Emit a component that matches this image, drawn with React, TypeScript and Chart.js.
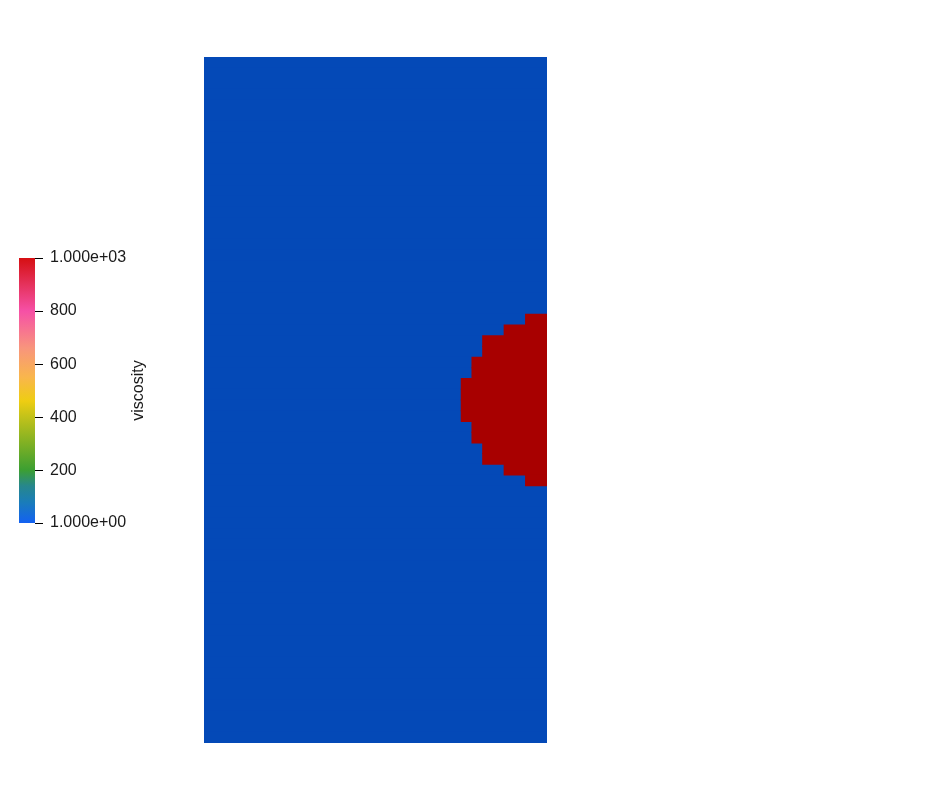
import React, { useEffect, useRef } from "react";
import { Chart, registerables } from "chart.js";

Chart.register(...registerables);

// Mesh: 32 columns x 64 rows of cells (rows counted from the top)
const gridCols = 32;
const gridRows = 64;
const rowLabels: string[] = Array.from({ length: gridRows }, (_, i) => `row ${i}`);

// High-viscosity inclusion: first row (from top) and, for each row, first column that is 1000
const inclusionFirstRow = 24;
const inclusionRowStartCol = [30, 28, 26, 26, 25, 25, 24, 24, 24, 24, 25, 25, 26, 26, 28, 30];

// Viscosity values
const lowViscosity = 1;
const highViscosity = 1000;

// Colour bar
const colorbarTicks = [1, 200, 400, 600, 800, 1000];
const colorbarTickLabels = ["1.000e+00", "200", "400", "600", "800", "1.000e+03"];
const colorbarTitle = "viscosity";
const colorStops: [number, string][] = [
  [0, "#1361f2"],
  [0.08, "#1a7db8"],
  [0.14, "#27878c"],
  [0.2, "#3c9f32"],
  [0.3, "#7fb024"],
  [0.4, "#c2c21a"],
  [0.46, "#eecd12"],
  [0.55, "#f9b64c"],
  [0.66, "#f8957c"],
  [0.8, "#f650a6"],
  [0.9, "#e5325c"],
  [1, "#d60f12"],
];

const BLUE = "#0449b7";
const RED = "#a80000";
const FONT = "'Liberation Sans', Arial, sans-serif";

export default function App() {
  const meshRef = useRef<HTMLCanvasElement | null>(null);
  const barRef = useRef<HTMLCanvasElement | null>(null);

  useEffect(() => {
    const inclusionData = rowLabels.map((_, r) => {
      const k = r - inclusionFirstRow;
      if (k >= 0 && k < inclusionRowStartCol.length) return [inclusionRowStartCol[k], gridCols];
      return null;
    });
    const backgroundData = rowLabels.map(() => [0, gridCols]);

    const mesh = new Chart(meshRef.current!, {
      type: "bar",
      data: {
        labels: rowLabels,
        datasets: [
          {
            label: `viscosity ${highViscosity}`,
            data: inclusionData as any,
            backgroundColor: RED,
            borderWidth: 0,
            inflateAmount: 0.5,
            barPercentage: 1,
            categoryPercentage: 1,
            grouped: false,
          },
          {
            label: `viscosity ${lowViscosity}`,
            data: backgroundData as any,
            backgroundColor: BLUE,
            borderWidth: 0,
            inflateAmount: 0.5,
            barPercentage: 1,
            categoryPercentage: 1,
            grouped: false,
          },
        ],
      },
      options: {
        indexAxis: "y",
        animation: false,
        responsive: false,
        layout: { padding: { left: 204, right: 402, top: 57, bottom: 59 } },
        plugins: { legend: { display: false }, tooltip: { enabled: false } },
        scales: {
          x: { type: "linear", min: 0, max: gridCols, display: false },
          y: { type: "category", display: false },
        },
      },
    });

    const titlePlugin = {
      id: "cbTitle",
      afterDraw(chart: any) {
        const { ctx, chartArea } = chart;
        ctx.save();
        ctx.translate(139, (chartArea.top + chartArea.bottom) / 2);
        ctx.rotate(-Math.PI / 2);
        ctx.fillStyle = "#1a1a1a";
        ctx.font = `16px ${FONT}`;
        ctx.textAlign = "center";
        ctx.textBaseline = "middle";
        ctx.fillText(colorbarTitle, 0, 0);
        ctx.restore();
      },
    };

    const bar = new Chart(barRef.current!, {
      type: "bar",
      data: {
        labels: [colorbarTitle],
        datasets: [
          {
            data: [[lowViscosity, highViscosity]] as any,
            backgroundColor: (c: any) => {
              const area = c.chart.chartArea;
              if (!area) return "#888";
              const g = c.chart.ctx.createLinearGradient(0, area.bottom, 0, area.top);
              colorStops.forEach(([p, col]) => g.addColorStop(p, col));
              return g;
            },
            borderWidth: 0,
            barPercentage: 1,
            categoryPercentage: 1,
          },
        ],
      },
      options: {
        animation: false,
        responsive: false,
        layout: { padding: { left: 19, right: 0, top: 258, bottom: 802 - 523 } },
        plugins: { legend: { display: false }, tooltip: { enabled: false } },
        scales: {
          x: { display: false },
          y: {
            type: "linear",
            position: "right",
            min: lowViscosity,
            max: highViscosity,
            afterBuildTicks: (scale: any) => {
              scale.ticks = colorbarTicks.map((v) => ({ value: v }));
            },
            afterFit: (scale: any) => {
              scale.width = 165;
            },
            border: { display: false },
            grid: {
              drawOnChartArea: false,
              drawTicks: true,
              tickLength: 8,
              color: "#000",
              lineWidth: 1,
            },
            ticks: {
              padding: 7,
              color: "#1a1a1a",
              font: { family: FONT, size: 16 },
              callback: (value: any) => {
                const i = colorbarTicks.indexOf(Number(value));
                return i >= 0 ? colorbarTickLabels[i] : "";
              },
            },
          },
        },
      },
      plugins: [titlePlugin],
    });

    return () => {
      mesh.destroy();
      bar.destroy();
    };
  }, []);

  return (
    <div style={{ position: "fixed", left: 0, top: 0, width: 949, height: 802, background: "#fff" }}>
      <canvas
        ref={meshRef}
        width={949}
        height={802}
        style={{ position: "absolute", left: 0, top: 0, width: 949, height: 802 }}
      />
      <canvas
        ref={barRef}
        width={200}
        height={802}
        style={{ position: "absolute", left: 0, top: 0, width: 200, height: 802 }}
      />
    </div>
  );
}
